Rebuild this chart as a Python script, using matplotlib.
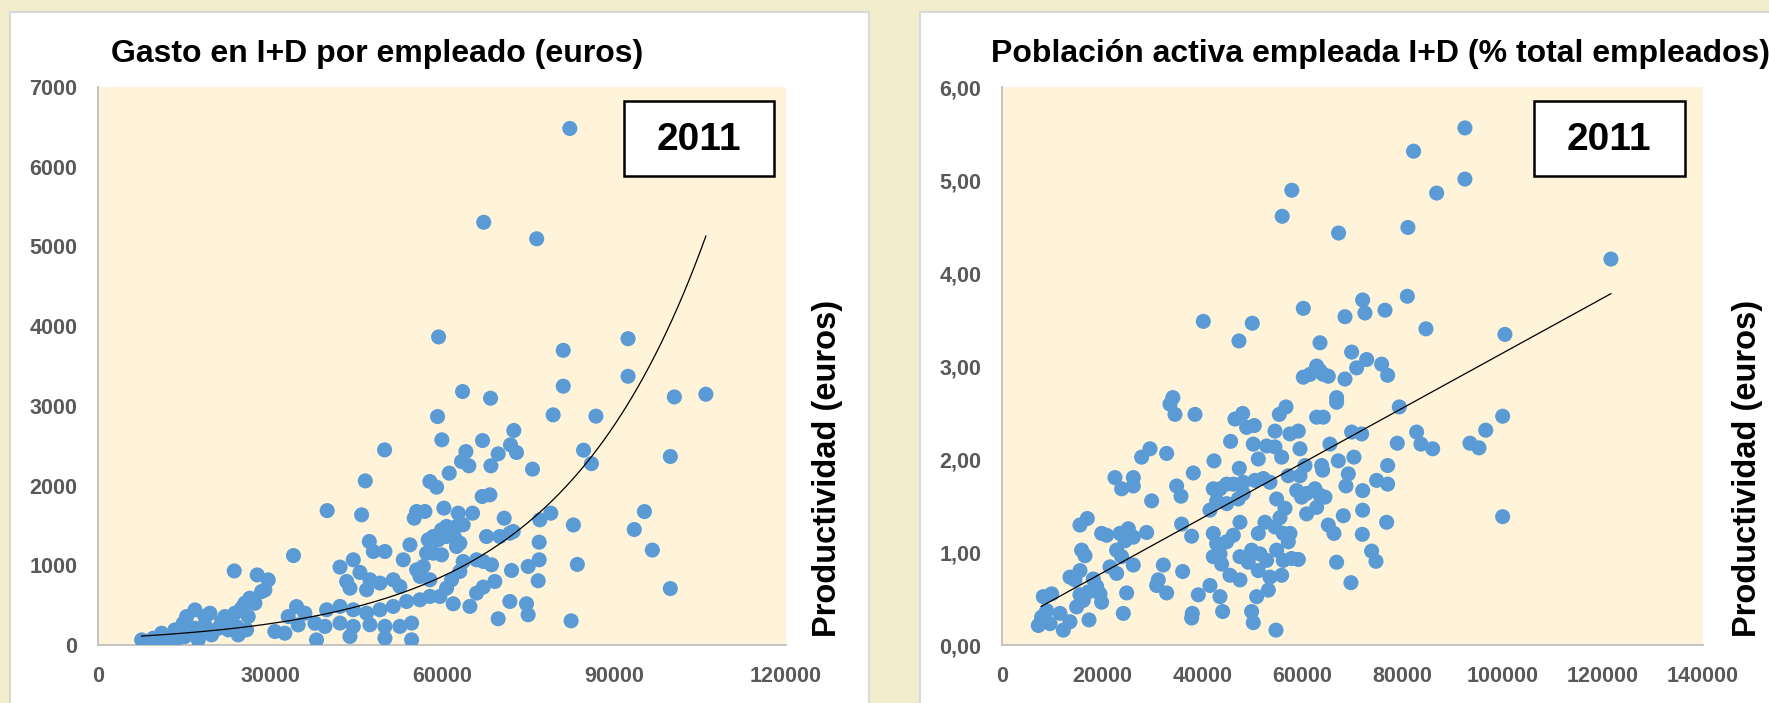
import matplotlib
matplotlib.use("Agg")
import matplotlib.pyplot as plt
from matplotlib.patches import Rectangle
import numpy as np

# gasto en I+D por empleado (x) frente a productividad (y), 2011
gasto_x = [
    39970, 34100, 23760, 27770, 29690, 29110, 28530, 26490, 25620, 27370, 25040, 23880, 26200,
    16910, 15460, 19520, 14870, 23300, 21560, 18650, 16910, 13420, 11100, 7610, 8770, 9640,
    12260, 15160, 17490, 19810, 22720, 24460, 25910, 30850, 32590, 34630, 36080, 33180, 34920,
    37830, 38110, 10520, 14000, 16040, 18070, 20980, 22140, 18650, 24170,
    63590, 68470, 79390, 59230, 72530, 59980, 67070, 64170, 69800, 71950, 73000, 63410, 64690,
    68530, 75790, 49990, 46620, 61260, 57890, 59060, 45980, 67010, 68350, 55570, 57020, 55160,
    60330, 62830, 65330, 70850, 77070, 78980, 63700, 62540, 60800, 59930, 60800, 62250, 59350,
    67770, 70090, 71840, 72420, 76950,
    47320, 48020, 50050, 54410, 53250, 57600, 58470, 62540, 63120, 58470, 59930, 57310, 44530,
    42210, 45690, 43370, 43950, 47440, 49180, 46850, 51500, 52660, 55570, 56150, 57890, 56730,
    63700, 63120, 66030, 67190, 68640, 72130, 75030, 76950, 76780, 69220, 67190, 66030, 64870,
    61670, 60800, 59640, 61960, 71840, 74740, 75030, 69800, 39880, 42210, 44530, 46850, 49180,
    51500, 53830, 56150, 57890, 39590, 42210, 44530, 47440, 50050, 52660, 54700, 43950, 50050,
    54700,
    82300, 67280, 76520, 59410, 92460, 81150, 92460, 81150, 100530, 106030, 86850, 84690, 99830,
    86060, 95310, 82920, 93540, 96690, 83610, 99830, 82520,
]
gasto_y = [
    1686, 1122, 929, 879, 817, 691, 670, 587, 524, 524, 461, 399, 357,
    440, 357, 399, 273, 252, 294, 252, 210, 190, 148, 64, 43, 85,
    43, 106, 64, 127, 190, 127, 190, 169, 148, 482, 399, 357, 252,
    273, 64, 64, 85, 148, 169, 210, 357, 357, 231,
    3180, 3096, 2887, 2866, 2691, 2574, 2565, 2427, 2398, 2511, 2415, 2302, 2248,
    2248, 2206, 2448, 2059, 2156, 2051, 1980, 1633, 1863, 1884, 1675, 1675, 1591,
    1717, 1654, 1654, 1591, 1570, 1654, 1508, 1487, 1487, 1445, 1361, 1340, 1320,
    1361, 1361, 1403, 1424, 1290,
    1299, 1173, 1173, 1257, 1069, 1320, 1361, 1236, 1278, 1152, 1131, 1152, 1069,
    977, 910, 797, 713, 818, 776, 693, 818, 734, 943, 860, 818, 985,
    1048, 923, 1069, 1048, 1006, 935, 985, 1069, 806, 797, 726, 651, 484,
    818, 713, 609, 517, 546, 517, 379, 329, 442, 484, 442, 400, 442,
    484, 546, 567, 609, 233, 275, 233, 254, 233, 233, 275, 107, 86,
    65,
    6480, 5303, 5096, 3865, 3843, 3697, 3371, 3247, 3112, 3146, 2871, 2444, 2365,
    2275, 1674, 1506, 1449, 1191, 1011, 708, 303,
]

# poblacion activa empleada en I+D (x) frente a productividad (y), 2011
poblacion_x = [
    33550, 34550, 38550, 29560, 27890, 32890, 22570, 26230, 23900, 26230, 29890, 34880, 35750,
    38210, 42340, 42200, 43540, 44870, 41540, 42870, 35880, 37880, 42200, 42870, 43540, 42200,
    15580, 17040, 19910, 20900, 23570, 25230, 26230, 28890, 24560, 15910, 16580, 22900, 23900,
    26230, 21570, 22900, 13580, 15580, 14580, 18240, 18910, 19570, 19900, 17240, 16240, 14910,
    15580, 24900, 8250, 9920, 8920, 11580, 7920, 7260, 9590, 12250, 13580, 17380, 24230,
    32220, 31220, 30890, 32890, 36080, 38010, 39210, 41540, 43540, 44070, 37880,
    46530, 48060, 48860, 50390, 45660, 50190, 52850, 54520, 55850, 57510, 59180, 59510, 54520,
    55380, 56720, 47400, 51190, 57180, 59510, 60510, 46200, 48190, 50520, 52190, 53520, 47200,
    48190, 54850, 56520, 55520, 58850, 59840, 60840, 62510, 63510, 64500, 60840, 62840, 46200,
    47530, 51190, 52520, 54520, 56180, 57510, 57180, 47530, 49190, 49860, 51520, 52850, 54850,
    56180, 57850, 59180, 45530, 47530, 51190, 53520, 55850, 50860, 53190, 49860, 50190, 54720,
    63840, 64040, 67170, 70290, 69160, 68700, 72030, 68170, 72030, 65170, 66300, 71960, 66830,
    69690, 73820, 74690, 76820, 74820, 77020, 77020, 78950, 82810, 83670, 86010, 65500, 69830,
    71830, 66830, 66830, 62840, 64170, 68500, 69830, 70830, 72830, 75820, 77020, 63510, 60180,
    61510, 62840, 63510, 64170, 65170, 60180, 68500, 72030, 72490, 76490, 80950, 84670, 47330,
    49990, 40210, 79350, 44870, 44870, 43870,
    92450, 82200, 92450, 86810, 57880, 55960, 81070, 67220, 121610, 100440, 99990, 96610, 93460,
    95260, 99990, 34120,
]
poblacion_y = [
    2.59, 2.48, 2.48, 2.11, 2.02, 2.06, 1.80, 1.80, 1.68, 1.71, 1.55, 1.71, 1.60,
    1.85, 1.98, 1.68, 1.68, 1.73, 1.45, 1.55, 1.30, 1.17, 1.20, 1.09, 0.98, 0.95,
    1.29, 1.36, 1.20, 1.18, 1.20, 1.25, 1.16, 1.21, 1.12, 1.02, 0.96, 1.02, 0.95,
    0.86, 0.84, 0.77, 0.73, 0.80, 0.70, 0.71, 0.63, 0.55, 0.46, 0.57, 0.48, 0.41,
    0.54, 0.56, 0.52, 0.55, 0.37, 0.34, 0.30, 0.21, 0.23, 0.16, 0.25, 0.27, 0.34,
    0.86, 0.70, 0.64, 0.56, 0.79, 0.34, 0.54, 0.64, 0.52, 0.36, 0.29,
    2.43, 2.49, 2.34, 2.36, 2.19, 2.16, 2.14, 2.13, 2.02, 2.27, 2.30, 2.11, 2.30,
    2.48, 2.56, 1.90, 2.00, 1.82, 1.82, 1.93, 1.73, 1.75, 1.77, 1.79, 1.75, 1.57,
    1.63, 1.57, 1.47, 1.37, 1.66, 1.59, 1.63, 1.68, 1.61, 1.59, 1.41, 1.48, 1.18,
    1.32, 1.20, 1.32, 1.27, 1.20, 1.20, 1.11, 0.95, 0.89, 1.02, 0.98, 0.91, 1.02,
    0.91, 0.93, 0.92, 0.75, 0.70, 0.80, 0.73, 0.75, 0.52, 0.59, 0.36, 0.24, 0.16,
    1.93, 1.88, 1.98, 2.02, 1.84, 1.71, 1.66, 1.39, 1.45, 1.29, 1.20, 1.19, 0.89,
    0.67, 1.01, 0.90, 1.32, 1.77, 1.73, 1.93, 2.17, 2.29, 2.16, 2.11, 2.16, 2.29,
    2.27, 2.66, 2.61, 2.45, 2.45, 2.86, 3.15, 2.98, 3.07, 3.02, 2.90, 3.25, 2.88,
    2.91, 3.00, 2.95, 2.91, 2.89, 3.62, 3.53, 3.71, 3.57, 3.60, 3.75, 3.40, 3.27,
    3.46, 3.48, 2.56, 1.52, 1.11, 0.87,
    5.56, 5.31, 5.01, 4.86, 4.89, 4.61, 4.49, 4.43, 4.15, 3.34, 2.46, 2.31, 2.17,
    2.12, 1.38, 2.66,
]

# trend lines (Excel exponential / linear fits)
EXP_TREND = (83.4, 3.885e-5)       # y = a * exp(b * x)
LIN_TREND = (0.183, 2.956e-5)      # y = c + m * x

TITLES = ["Gasto en I+D por empleado (euros)", "Población activa empleada I+D (% total empleados)"]
Y_LABEL = "Productividad (euros)"
YEAR = "2011"
left_xticks = [0, 30000, 60000, 90000, 120000]
left_yticks = [0, 1000, 2000, 3000, 4000, 5000, 6000, 7000]
right_xticks = [0, 20000, 40000, 60000, 80000, 100000, 120000, 140000]
right_yticks = [0, 1, 2, 3, 4, 5, 6]

DOT = "#5B9BD5"
PLOT_BG = "#FFF4DA"
PAGE_BG = "#F2EDCB"
TICK_GRAY = "#595959"
TICK_FONT = {"fontweight": "bold", "fontsize": 15.5, "color": TICK_GRAY}


def style_axis(axis, xticks, yticks, ylabels):
    axis.set_facecolor(PLOT_BG)
    for side in ["top", "right"]:
        axis.spines[side].set_visible(False)
    for side in ["left", "bottom"]:
        axis.spines[side].set_color("#BFBFBF")
        axis.spines[side].set_linewidth(1.3)
    axis.set_xticks(xticks, labels=[str(t) for t in xticks], **TICK_FONT)
    axis.set_yticks(yticks, labels=ylabels, **TICK_FONT)
    axis.tick_params(length=0, pad=15)


def year_box(axis, x0, x1):
    axis.add_patch(
        Rectangle((x0, 0.8405), x1 - x0, 0.1345, transform=axis.transAxes,
                  facecolor="white", edgecolor="black", linewidth=1.8, zorder=5)
    )
    axis.text((x0 + x1) / 2, 0.905, YEAR, transform=axis.transAxes, ha="center", va="center",
              fontsize=28, fontweight="bold", zorder=6)


plt.rcParams["font.family"] = ["Liberation Sans", "DejaVu Sans"]
plt.rcParams["font.weight"] = "bold"
fig = plt.figure(figsize=(17.69, 7.03), dpi=100, facecolor=PAGE_BG)

# white panels behind each chart
for x0, width in [(0.0057, 0.4856), (0.5201, 0.49)]:
    fig.add_artist(Rectangle((x0, -0.01), width, 0.993, transform=fig.transFigure,
                             facecolor="white", edgecolor="#D9D9D9", linewidth=1.5, zorder=-1))

ax_left = fig.add_axes([0.0554, 0.0825, 0.3889, 0.7937])
ax_right = fig.add_axes([0.5664, 0.0825, 0.3963, 0.7937])

# left: exponential trend
gx = np.array(gasto_x, dtype=float)
gy = np.array(gasto_y, dtype=float)
ax_left.scatter(gx, gy, s=118, color=DOT, edgecolors="none", zorder=3)
xs = np.linspace(gx.min(), gx.max(), 300)
ax_left.plot(xs, EXP_TREND[0] * np.exp(EXP_TREND[1] * xs), color="black", linewidth=0.9, zorder=4)
ax_left.set_xlim(0, 120000)
ax_left.set_ylim(0, 7000)
style_axis(ax_left, left_xticks, left_yticks, [str(t) for t in left_yticks])
year_box(ax_left, 0.7645, 0.9826)

# right: linear trend
px = np.array(poblacion_x, dtype=float)
py = np.array(poblacion_y, dtype=float)
ax_right.scatter(px, py, s=118, color=DOT, edgecolors="none", zorder=3)
xs = np.array([px.min() + 600, px.max()])
ax_right.plot(xs, LIN_TREND[0] + LIN_TREND[1] * xs, color="black", linewidth=0.9, zorder=4)
ax_right.set_xlim(0, 140000)
ax_right.set_ylim(0, 6)
style_axis(ax_right, right_xticks, right_yticks, [f"{t:.2f}".replace(".", ",") for t in right_yticks])
year_box(ax_right, 0.759, 0.974)

fig.text(0.0627, 0.923, TITLES[0], ha="left", va="center", fontsize=23)
fig.text(0.5602, 0.923, TITLES[1], ha="left", va="center", fontsize=23)
fig.text(0.4675, 0.3336, Y_LABEL, rotation=90, ha="center", va="center", fontsize=23.5)
fig.text(0.9881, 0.3336, Y_LABEL, rotation=90, ha="center", va="center", fontsize=23.5)

fig.savefig("out.png", dpi=100, facecolor=PAGE_BG)
